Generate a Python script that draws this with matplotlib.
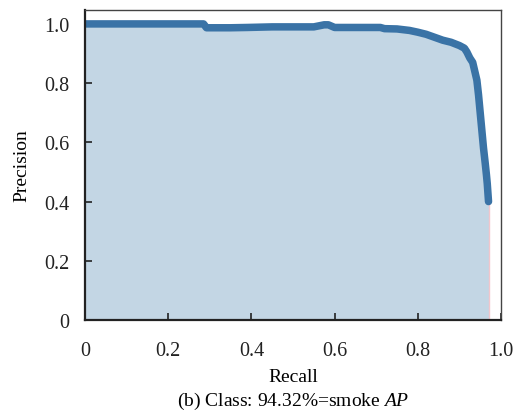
import matplotlib
matplotlib.use("Agg")
import matplotlib.pyplot as plt

recall = [0.0, 0.10, 0.20, 0.285, 0.292, 0.35, 0.39, 0.45, 0.55, 0.575, 0.585, 0.60,
          0.65, 0.71, 0.72, 0.75, 0.78, 0.80, 0.82, 0.84, 0.86, 0.88, 0.90, 0.912,
          0.918, 0.925, 0.932, 0.937, 0.942, 0.946, 0.950, 0.954, 0.958, 0.962,
          0.965, 0.967, 0.969, 0.970]
precision = [1.0, 1.0, 1.0, 1.0, 0.987, 0.987, 0.988, 0.99, 0.99, 0.997, 0.997, 0.988,
             0.988, 0.988, 0.984, 0.983, 0.978, 0.972, 0.965, 0.955, 0.945, 0.938, 0.927, 0.918,
             0.905, 0.885, 0.87, 0.84, 0.81, 0.76, 0.70, 0.64, 0.58, 0.53,
             0.49, 0.46, 0.42, 0.40]

x_ticks = [0, 0.2, 0.4, 0.6, 0.8, 1.0]
x_labels = ["0", "0.2", "0.4", "0.6", "0.8", "1.0"]
y_ticks = [0, 0.2, 0.4, 0.6, 0.8, 1.0]
y_labels = ["0", "0.2", "0.4", "0.6", "0.8", "1.0"]

plt.rcParams['font.family'] = ['Liberation Serif', 'DejaVu Serif']
plt.rcParams['mathtext.fontset'] = 'custom'
plt.rcParams['mathtext.it'] = 'Liberation Serif:italic'
plt.rcParams['mathtext.rm'] = 'Liberation Serif'

FS = 14.5
LFS = 14

fig = plt.figure(figsize=(5.16, 4.14), dpi=100)
ax = fig.add_axes([85/516, 1-321/414, (501-85)/516, (321-11)/414])

ax.fill_between(recall, precision, 0, color='#c3d6e4', linewidth=0)
ax.plot([recall[-1], recall[-1]], [0, precision[-1]], color='#f2c6cc', lw=1.0)
ax.plot(recall, precision, color='#3a73a6', lw=5.4, solid_capstyle='round',
        solid_joinstyle='round')

ax.set_xlim(0, 1.0)
ax.set_ylim(0, 1.047)
ax.set_xticks(x_ticks)
ax.set_xticklabels(x_labels)
ax.set_yticks(y_ticks)
ax.set_yticklabels(y_labels)
ax.tick_params(direction='in', length=5, width=1.2, labelsize=FS, colors='#222222')
ax.tick_params(axis='x', pad=15)
ax.tick_params(axis='y', pad=11)
for s in ax.spines.values():
    s.set_color('#444444')
    s.set_linewidth(1.0)
ax.spines['bottom'].set_linewidth(1.6)
ax.spines['left'].set_linewidth(1.6)
ax.spines['bottom'].set_color('#222222')
ax.spines['left'].set_color('#222222')

ax.set_ylabel('Precision', fontsize=LFS, labelpad=10)
ax.set_xlabel('Recall', fontsize=LFS, labelpad=6)
fig.text((85+501)/2/516, 1-401/414, r'(b) Class: 94.32%=smoke $\mathit{AP}$',
         ha='center', va='center', fontsize=LFS)

fig.savefig('out.png', dpi=100)
